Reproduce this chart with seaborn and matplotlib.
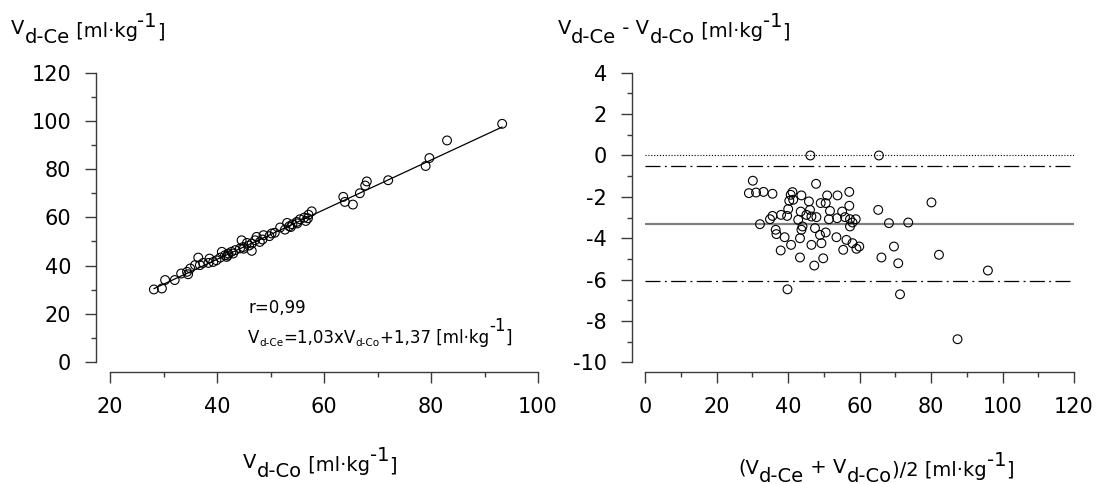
import matplotlib
matplotlib.use("Agg")
import matplotlib.pyplot as plt
from matplotlib.transforms import IdentityTransform
from matplotlib.ticker import MultipleLocator
import seaborn as sns
import pandas as pd

# Volume of distribution: reference method (Co) vs. estimated (Ce), ml/kg
vd_co = [93.3, 83.0, 79.7, 79.0, 72.0, 68.0, 67.7, 66.7, 63.6, 63.9, 65.4,
         57.7, 57.1, 56.3, 55.5, 56.6, 54.9, 54.1, 53.1, 53.5, 52.7, 51.8,
         50.2, 49.8, 48.7, 47.4, 47.1, 48.0, 46.5, 45.6, 44.6, 44.9, 44.3,
         46.5, 43.4, 42.7, 42.1, 41.5, 40.9, 41.8, 40.6, 39.9, 39.3, 38.6,
         38.4, 37.4, 36.5, 36.8, 35.9, 35.0, 34.4, 34.6, 33.3, 32.1, 30.3,
         29.7, 28.2, 42.0, 43.0, 45.0, 46.0, 48.5, 50.8, 53.8, 55.0, 57.0]
vd_ce = [98.8, 91.9, 84.6, 81.3, 75.4, 74.9, 73.2, 70.0, 68.5, 66.4, 65.3,
         62.5, 61.1, 59.9, 59.2, 58.5, 58.1, 57.1, 57.7, 56.3, 54.9, 55.8,
         53.3, 52.2, 52.6, 51.9, 50.5, 49.8, 49.1, 49.4, 50.5, 47.7, 47.1,
         46.1, 46.4, 45.7, 45.0, 44.3, 45.7, 43.6, 43.3, 42.2, 41.5, 42.9,
         41.1, 41.1, 43.3, 40.2, 40.2, 38.8, 37.4, 36.4, 36.7, 34.0, 34.0,
         30.5, 30.1, 44.2, 45.0, 47.0, 48.3, 50.8, 53.6, 56.0, 57.5, 59.6]

# Regression reported in the panel
slope, intercept, r_value = 1.03, 1.37, 0.99

# Bland-Altman: mean of both methods vs. difference
ba_mean = [46.2, 65.4, 30.1, 29.0, 31.0, 33.1, 35.6, 47.8, 57.1, 53.8, 50.9,
           41.2, 40.7, 43.7, 40.3, 41.4, 45.8, 49.1, 50.5, 57.1, 80.1, 65.2,
           40.0, 43.5, 46.1, 51.7, 55.1, 35.6, 38.0, 39.7, 34.9, 45.1, 46.5,
           47.9, 42.8, 51.4, 53.7, 55.9, 57.3, 58.9, 58.0, 57.3, 32.1, 68.2,
           73.6, 44.0, 47.5, 36.5, 36.7, 39.0, 43.7, 48.9, 50.5, 43.3, 53.5,
           56.3, 58.0, 49.3, 40.8, 46.5, 59.9, 59.1, 69.6, 55.4, 37.9, 82.2,
           43.3, 49.8, 66.1, 47.3, 70.8, 95.9, 39.8, 71.3, 87.4]
ba_diff = [0.0, 0.0, -1.22, -1.82, -1.79, -1.76, -1.85, -1.37, -1.76, -1.93,
           -1.93, -1.77, -1.90, -1.93, -2.19, -2.14, -2.22, -2.30, -2.30,
           -2.43, -2.27, -2.63, -2.59, -2.71, -2.63, -2.68, -2.71, -2.92,
           -2.87, -2.92, -3.08, -2.87, -2.95, -2.98, -3.11, -3.08, -3.03,
           -2.98, -3.08, -3.08, -3.24, -3.43, -3.32, -3.27, -3.24, -3.43,
           -3.51, -3.59, -3.80, -3.95, -3.59, -3.84, -3.72, -4.00, -3.95,
           -4.08, -4.24, -4.24, -4.32, -4.32, -4.40, -4.51, -4.40, -4.56,
           -4.59, -4.80, -4.93, -4.97, -4.93, -5.32, -5.21, -5.56, -6.47,
           -6.71, -8.88]
bias, loa_low, loa_high = -3.29, -6.07, -0.51

left_xticks = [20, 40, 60, 80, 100]
left_yticks = [0, 20, 40, 60, 80, 100, 120]
right_xticks = [0, 20, 40, 60, 80, 100, 120]
right_yticks = [-10, -8, -6, -4, -2, 0, 2, 4]

sns.set_style("ticks")
plt.rcParams["font.family"] = ["DejaVu Sans"]
plt.rcParams["axes.unicode_minus"] = False

W, H = 1101, 484
fig = plt.figure(figsize=(W / 100, H / 100), dpi=100)
PT = 72 / 100  # points per pixel


def ax_at(x0, y_top, x1, y_bot):
    return fig.add_axes([x0 / W, 1 - y_bot / H, (x1 - x0) / W, (y_bot - y_top) / H])


ax1 = ax_at(110, 72.7, 538, 362)
ax2 = ax_at(645.3, 72.7, 1074, 362.4)

spine_col = "#3a3a3a"
for ax, (lo, bo) in ((ax1, (14, 10)), (ax2, (13.3, 9.3))):
    for s in ("top", "right"):
        ax.spines[s].set_visible(False)
    ax.spines["left"].set_position(("outward", lo * PT))
    ax.spines["bottom"].set_position(("outward", bo * PT))
    for s in ("left", "bottom"):
        ax.spines[s].set_color(spine_col)
        ax.spines[s].set_linewidth(1.0)
    ax.tick_params(which="major", length=11 * PT, width=1.0, color=spine_col,
                   labelsize=15, labelcolor="black", pad=10, direction="out")
    ax.tick_params(which="minor", length=5 * PT, width=1.0, color=spine_col,
                   direction="out")
    ax.set_facecolor("white")

# Left panel: Ce vs Co
df_left = pd.DataFrame({"co": vd_co, "ce": vd_ce})
sns.scatterplot(data=df_left, x="co", y="ce", ax=ax1, marker="o", s=40,
                edgecolor="black", linewidth=0.8, zorder=3)
ax1.collections[-1].set_facecolor("none")
fit_x = pd.Series([min(vd_co), max(vd_co)])
sns.lineplot(x=fit_x, y=slope * fit_x + intercept, ax=ax1, color="black",
             linewidth=0.9, zorder=2)
ax1.set_xlim(20, 100)
ax1.set_ylim(0, 120)
ax1.set_xticks(left_xticks)
ax1.set_yticks(left_yticks)
ax1.xaxis.set_minor_locator(MultipleLocator(10))
ax1.yaxis.set_minor_locator(MultipleLocator(10))
ax1.set_xlabel("")
ax1.set_ylabel("")

# Right panel: Bland-Altman
df_right = pd.DataFrame({"m": ba_mean, "d": ba_diff})
ax2.axhline(0, color="black", linewidth=0.8, linestyle=(0, (1, 1.6)), zorder=1)
ax2.axhline(loa_high, color="black", linewidth=0.9,
            linestyle=(0, (12, 3.5, 1.5, 3.5)), zorder=1)
ax2.axhline(loa_low, color="black", linewidth=0.9,
            linestyle=(0, (12, 3.5, 1.5, 3.5)), zorder=1)
ax2.axhline(bias, color="#808080", linewidth=1.6, zorder=1)
sns.scatterplot(data=df_right, x="m", y="d", ax=ax2, marker="o", s=40,
                edgecolor="black", linewidth=0.8, zorder=3)
ax2.collections[-1].set_facecolor("none")
ax2.set_xlim(0, 120)
ax2.set_ylim(-10, 4)
ax2.set_xticks(right_xticks)
ax2.set_yticks(right_yticks)
ax2.xaxis.set_minor_locator(MultipleLocator(10))
ax2.yaxis.set_minor_locator(MultipleLocator(1))
ax2.set_xlabel("")
ax2.set_ylabel("")

renderer = fig.canvas.get_renderer()


def rich(parts, x, anchor="left"):
    """Draw a run of text pieces side by side; parts = (text, size, baseline_y_px)."""
    items = []
    total = 0.0
    for s, fs, by in parts:
        t = fig.text(0, 0, s, fontsize=fs, ha="left", va="baseline",
                     transform=IdentityTransform(), color="black")
        w = t.get_window_extent(renderer).width
        items.append((t, total, by))
        total += w
    x0 = x - total / 2 if anchor == "center" else x
    for t, off, by in items:
        t.set_position((x0 + off, H - by))


LS = 14
UNIT = "[ml\u00b7kg"

# axis titles above the y axes
b = 34
rich([("V", LS, b), ("d-Ce", LS, b + 9), (" " + UNIT, LS, b + 3),
      ("-1", LS, b - 7), ("]", LS, b + 3)], 11)
rich([("V", LS, b), ("d-Ce", LS, b + 9), (" - V", LS, b), ("d-Co", LS, b + 9),
      (" " + UNIT, LS, b + 3), ("-1", LS, b - 7), ("]", LS, b + 3)], 558)

# x-axis titles
b = 468
rich([("V", LS, b), ("d-Co", LS, b + 9), (" " + UNIT, LS, b + 3),
      ("-1", LS, b - 7), ("]", LS, b + 3)], 320, anchor="center")
b = 473
rich([("(V", LS, b), ("d-Ce", LS, b + 9), (" + V", LS, b), ("d-Co", LS, b + 9),
      (")/2 " + UNIT, LS, b + 3), ("-1", LS, b - 7), ("]", LS, b + 3)],
     876, anchor="center")

# regression annotation
AS, SS = 12, 7.5
rich([("r=" + f"{r_value:.2f}".replace(".", ","), AS, 313)], 248)
b = 343
rich([("V", AS, b), ("d-Ce", SS, b + 3),
      ("=" + f"{slope:.2f}".replace(".", ",") + "xV", AS, b), ("d-Co", SS, b + 3),
      ("+" + f"{intercept:.2f}".replace(".", ",") + " " + UNIT, AS, b),
      ("-1", AS, b - 12), ("]", AS, b)], 248)

fig.savefig("out.png", dpi=100, facecolor="white")
